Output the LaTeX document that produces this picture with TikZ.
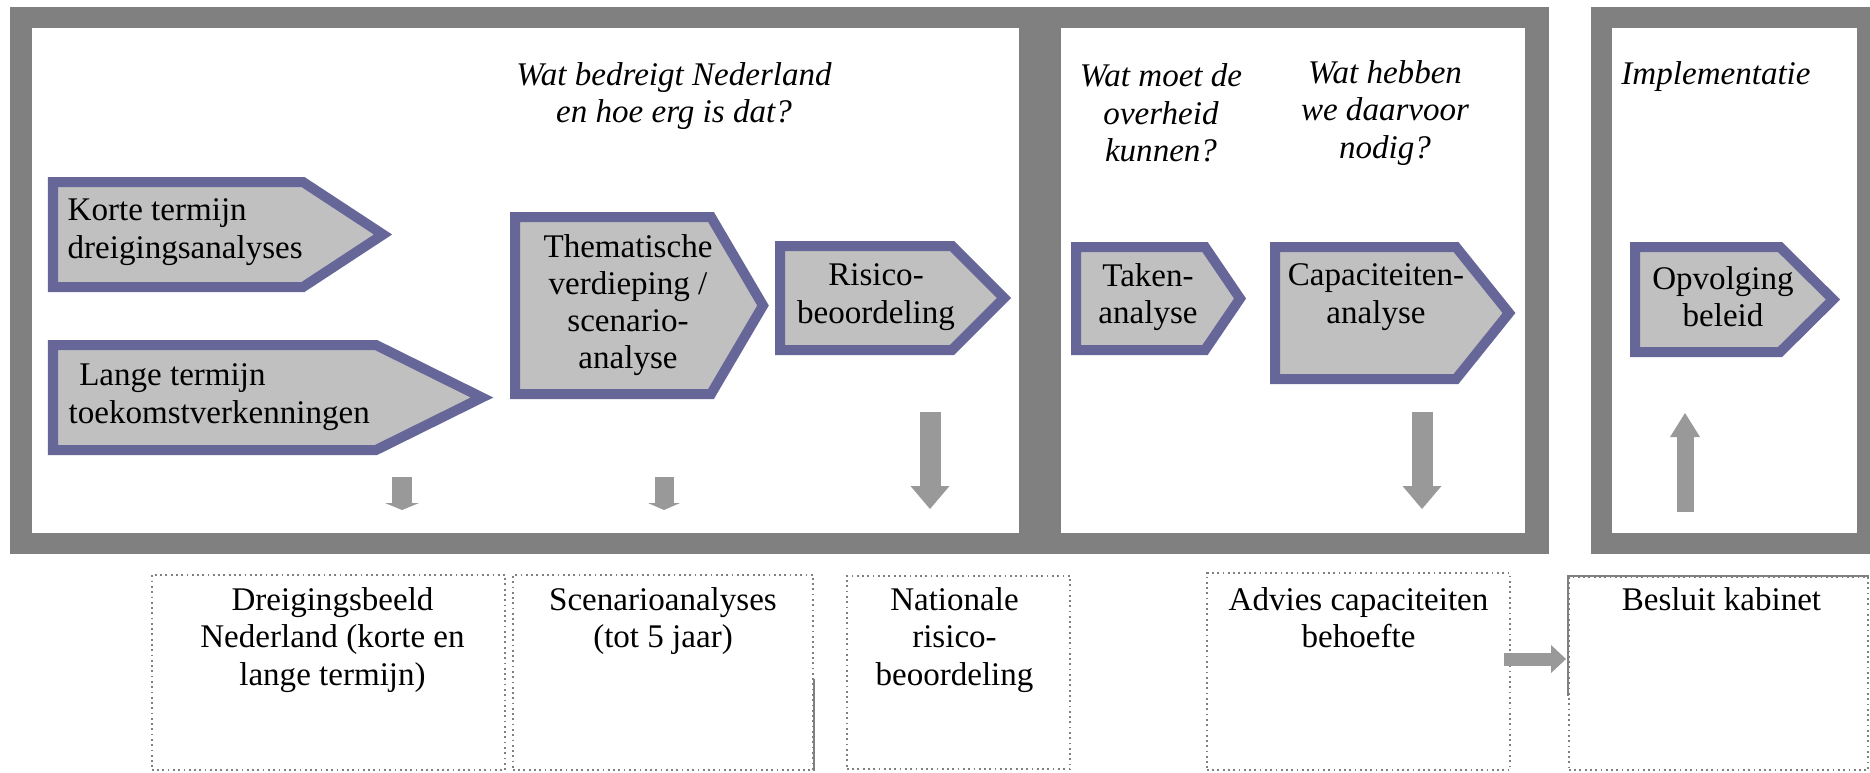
\documentclass[tikz,border=0pt]{standalone}
\usepackage{fontspec}
\setmainfont{Liberation Serif}
\usetikzlibrary{arrows.meta}
\usetikzlibrary{calc}
\definecolor{kadergrijs}{HTML}{808080}
\definecolor{pijlgrijs}{HTML}{999999}
\definecolor{blauwgrijs}{HTML}{666699}
\definecolor{vulgrijs}{HTML}{C0C0C0}

\begin{document}
\begin{tikzpicture}[x=0.01cm,y=-0.01cm,
  pentagon/.style={draw=blauwgrijs,fill=vulgrijs,line width=1mm,line join=miter},
  tekst/.style={font=\fontsize{9.4}{10.6}\selectfont,align=center,inner sep=0pt},
  vraag/.style={tekst,font=\fontsize{9.4}{10.6}\selectfont\itshape},
  resbox/.style={draw=kadergrijs,densely dotted,line width=0.5pt,inner sep=0pt},
  blok/.style={pijlgrijs,line width=#1}]

	\useasboundingbox (0,0) rectangle (1870,772);

	% grijze kaders
	\fill[kadergrijs] (10,7) rectangle (1549,554);
	\fill[white] (32,28) rectangle (1019,533);
	\fill[white] (1061,28) rectangle (1525,533);
	\fill[kadergrijs] (1591,7) rectangle (1870,554);
	\fill[white] (1612,28) rectangle (1857,533);

	% pijlvormen: links/boven/schouder/punt/onder
	\foreach \l/\t/\s/\p/\b in {53/182/303/383/287, 53/345/376/482/450, 515/217/711/763/394,
	                            780/246/952/1004/350, 1076/247/1205/1240/350,
	                            1275/247/1456/1509/379, 1635/247/1780/1833/352}
		\draw[pentagon] (\l,\t) -- (\s,\t) -- (\p,{(\t+\b)/2}) -- (\s,\b) -- (\l,\b) -- cycle;

	\node[tekst,align=left,anchor=west] (korte) at (67,232) {Korte termijn\\dreigingsanalyses};
	\node[tekst,align=left,anchor=west] (lange) at (68,397) {\hspace*{3pt}Lange termijn\\toekomstverkenningen};
	\node[tekst] (thema) at (628,305) {Thematische\\verdieping /\\scenario-\\analyse};
	\node[tekst] (risico) at (876,297) {Risico-\\beoordeling};
	\node[tekst] (taken) at (1148,297) {Taken-\\analyse};
	\node[tekst] (capaciteit) at (1376,297) {Capaciteiten-\\analyse};
	\node[tekst] (opvolging) at (1723,297) {Opvolging\\beleid};

	% vragen
	\node[vraag] (bedreigt) at (674,96) {Wat bedreigt Nederland\\en hoe erg is dat?};
	\node[vraag] (overheid) at (1161,113) {Wat moet de\\overheid\\kunnen?};
	\node[vraag] (nodig) at (1385,113) {Wat hebben\\we daarvoor\\nodig?};
	\node[vraag] (implementatie) at (1716,77) {Implementatie};

	% resultaten
	\node[resbox,minimum width=3.53cm,minimum height=1.95cm] (dreiging) at (328.5,672.5) {};
	\node[resbox,minimum width=3cm,minimum height=1.95cm] (scenario) at (663,672.5) {};
	\node[resbox,minimum width=2.23cm,minimum height=1.93cm] (nationale) at (958.5,672.5) {};
	\node[resbox,minimum width=3.03cm,minimum height=1.97cm] (advies) at (1358.5,671.5) {};
	\node[resbox,minimum width=2.99cm,minimum height=1.93cm] (besluit) at (1718.5,673.5) {};

	\node[tekst,anchor=north] (dreigingtekst) at ($(dreiging.north)+(4,13)$) {Dreigingsbeeld\\Nederland (korte en\\lange termijn)};
	\node[tekst,anchor=north] (scenariotekst) at ($(scenario.north)+(0,13)$) {Scenarioanalyses\\(tot 5 jaar)};
	\node[tekst,anchor=north] (nationaletekst) at ($(nationale.north)+(-4,12)$) {Nationale\\risico-\\beoordeling};
	\node[tekst,anchor=north] (adviestekst) at ($(advies.north)+(0,15)$) {Advies capaciteiten\\behoefte};
	\node[tekst,anchor=north] (besluittekst) at ($(besluit.north)+(3,11)$) {Besluit kabinet};

	\draw[kadergrijs,line width=0.6pt] ($(scenario.south east)+(0,-92)$) -- (scenario.south east);
	\draw[kadergrijs,line width=0.8pt] ($(besluit.north west)+(0,120)$) -- (besluit.north west) -- (besluit.north east);

	% blokpijlen
	\draw[blok=0.2cm,-{Triangle[width=0.34cm,length=0.07cm,line width=0pt]}] (402,477) -- (402,510);
	\draw[blok=0.19cm,-{Triangle[width=0.32cm,length=0.07cm,line width=0pt]}] (664,477) -- (664,510);
	\draw[blok=0.21cm,-{Triangle[width=0.39cm,length=0.23cm,line width=0pt]}] (930,412) -- (930,509);
	\draw[blok=0.21cm,-{Triangle[width=0.39cm,length=0.23cm,line width=0pt]}] (1422,412) -- (1422,509);
	\draw[blok=0.17cm,-{Triangle[width=0.3cm,length=0.24cm,line width=0pt]}] (1685,512) -- (1685,413);
	\draw[blok=0.13cm,-{Triangle[width=0.28cm,length=0.15cm,line width=0pt]}] ($(advies.east)+(-7,-12.5)$) -- ($(besluit.west)+(-2,-14.5)$);

\end{tikzpicture}
\end{document}
